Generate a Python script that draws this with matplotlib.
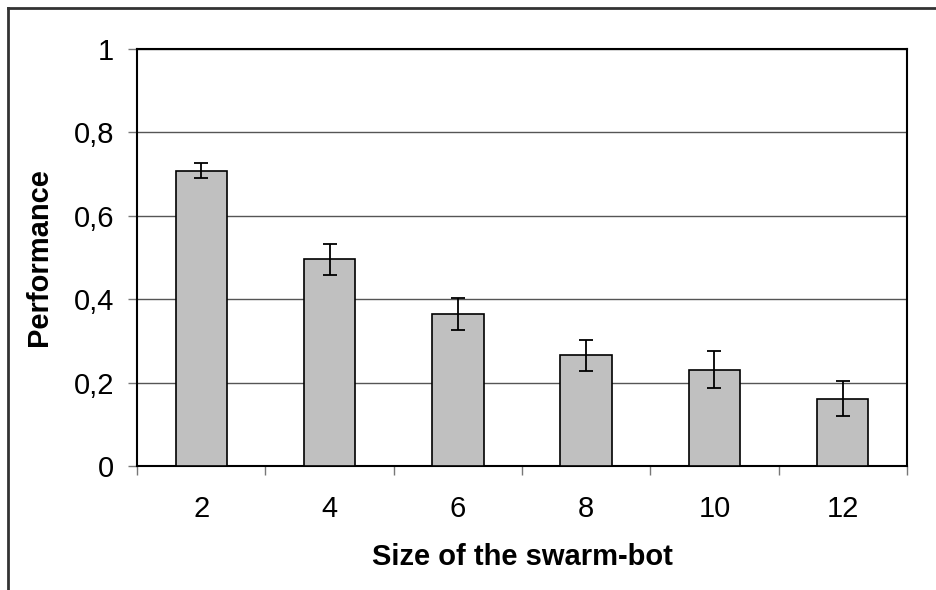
import matplotlib
matplotlib.use('Agg')
import matplotlib.pyplot as plt
import numpy as np
from matplotlib.ticker import FuncFormatter

# swarm-bot sizes and measured performance
sizes = ['2', '4', '6', '8', '10', '12']
performance = [0.708, 0.496, 0.365, 0.265, 0.231, 0.161]
errors = [0.018, 0.037, 0.039, 0.037, 0.045, 0.042]

plt.rcParams['font.family'] = ['Liberation Sans', 'DejaVu Sans']

fig = plt.figure(figsize=(9.36, 5.90), dpi=100)
ax = fig.add_axes([137 / 936, 1 - 466 / 590, (907 - 137) / 936, (466 - 49) / 590])

x = np.arange(len(sizes))
ax.bar(x, performance, width=0.4, color='#c0c0c0', edgecolor='black', linewidth=1.2, zorder=3)
ax.errorbar(x, performance, yerr=errors, fmt='none', ecolor='black', elinewidth=1.3,
            capsize=5, capthick=1.3, zorder=4)

ax.set_xlim(-0.5, len(sizes) - 0.5)
ax.set_ylim(0, 1)
ax.set_yticks([0, 0.2, 0.4, 0.6, 0.8, 1])
ax.yaxis.set_major_formatter(FuncFormatter(lambda v, p: ('%g' % v).replace('.', ',')))
ax.yaxis.grid(True, color='#555555', linewidth=1, zorder=0)
ax.set_axisbelow(True)

# category labels in the middle, ticks on the boundaries
ax.set_xticks(x)
ax.set_xticklabels(sizes)
ax.set_xticks(np.arange(-0.5, len(sizes), 1), minor=True)
ax.tick_params(axis='x', which='major', length=0, pad=21, labelsize=21)
ax.tick_params(axis='x', which='minor', length=6.5, color='#777777', width=1)
ax.tick_params(axis='y', length=6.5, color='#777777', width=1, pad=10, labelsize=21)

for s in ax.spines.values():
    s.set_linewidth(1.5)
    s.set_color('black')

ax.set_xlabel('Size of the swarm-bot', fontsize=21, fontweight='bold', labelpad=14)
ax.set_ylabel('Performance', fontsize=21, fontweight='bold', labelpad=15)

# outer chart frame (only left and top visible in the crop)
fig.add_artist(plt.Line2D([8 / 936, 8 / 936], [0, 1 - 8 / 590], transform=fig.transFigure,
                          color='#333333', linewidth=2))
fig.add_artist(plt.Line2D([8 / 936, 1], [1 - 8 / 590, 1 - 8 / 590], transform=fig.transFigure,
                          color='#333333', linewidth=2))

fig.savefig('out.png', dpi=100)
